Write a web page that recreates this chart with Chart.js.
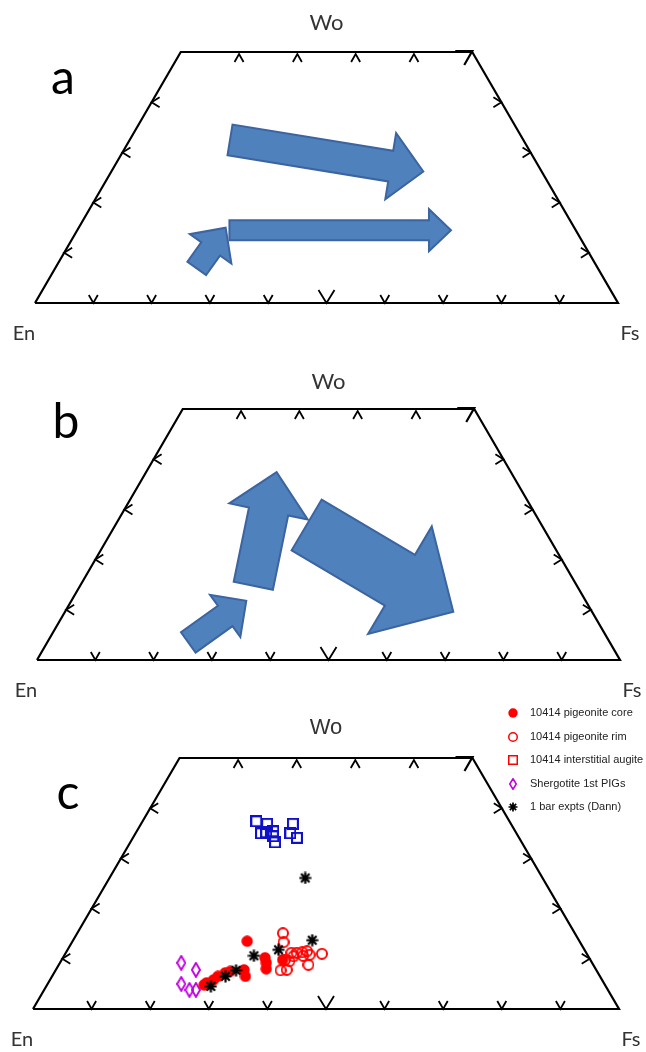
<!DOCTYPE html>
<html>
<head>
<meta charset="utf-8">
<script src="https://cdn.jsdelivr.net/npm/chart.js@4.4.1/dist/chart.umd.min.js"></script>
<style>
  html, body { margin: 0; padding: 0; background: #fff; }
  body { width: 646px; height: 1052px; position: relative; overflow: hidden; }
  canvas { position: absolute; left: 0; }
</style>
</head>
<body>
<canvas id="panelA" width="646" height="350" style="top:0"></canvas>
<canvas id="panelB" width="646" height="350" style="top:350px"></canvas>
<canvas id="panelC" width="646" height="352" style="top:700px"></canvas>
<script>
// pyroxene quadrilateral, values in Fs / Wo (mol %); plotted x = Fs + Wo/2
const quadFs = [0, 0, 50, 100, 0];
const quadWo = [0, 50, 50, 0, 0];
const baseTickFs = [10, 20, 30, 40, 50, 60, 70, 80, 90];
const topTickFs = [10, 20, 30, 40];
const sideTickWo = [10, 20, 30, 40];

// panel a arrows (tail -> tip)
const arrowATailFs = [17.2, 26.1, 24.3];
const arrowATailWo = [32.5, 14.5, 6.9];
const arrowATipFs = [53.5, 64.1, 25.2];
const arrowATipWo = [26.2, 14.5, 15.0];

// panel b arrows
const arrowBTailFs = [24.2, 29.7, 32.8];
const arrowBTailWo = [3.5, 14.8, 26.9];
const arrowBTipFs = [30.0, 22.4, 66.6];
const arrowBTipWo = [11.8, 37.4, 9.6];

// panel c
const coreFs = [26.8, 27.0, 27.9, 28.3, 29.2, 29.9, 32.1, 33.0, 29.8, 34.5, 35.2, 35.8, 37.7];
const coreWo = [4.8, 5.2, 5.8, 6.5, 7.2, 7.5, 7.8, 6.5, 13.5, 10.2, 9.2, 8.0, 9.8];
const rimFs = [35.1, 36.1, 38.5, 39.4, 40.3, 41.0, 41.8, 43.8, 42.6, 39.4, 38.4, 39.0, 39.2, 40.8, 38.1];
const rimWo = [15.1, 13.3, 11.2, 11.2, 11.3, 11.5, 10.8, 11.0, 8.8, 7.8, 7.7, 9.5, 10.5, 10.6, 9.8];
const augiteFs = [19.4, 21.5, 21.4, 22.2, 23.3, 23.8, 24.7, 25.9, 26.4, 28.0];
const augiteWo = [37.4, 36.9, 35.0, 35.2, 35.4, 34.4, 33.2, 36.9, 35.0, 34.1];
const shergFs = [20.7, 23.9, 22.8, 24.8, 25.9];
const shergWo = [9.2, 7.8, 5.0, 3.8, 3.8];
const dannFs = [28.1, 29.6, 30.8, 32.4, 36.0, 40.8, 33.4];
const dannWo = [4.5, 6.5, 7.7, 10.6, 11.8, 13.7, 26.1];
const legendLabels = ['10414 pigeonite core', '10414 pigeonite rim', '10414 interstitial augite', 'Shergotite 1st PIGs', '1 bar expts (Dann)'];

const LABEL_FONT = 'Lato, "Open Sans", sans-serif';

function toXY(fs, wo) {
  return fs.map((f, i) => ({ x: f + wo[i] / 2, y: wo[i] }));
}

function px(chart, fs, wo) {
  return { x: chart.scales.x.getPixelForValue(fs + wo / 2), y: chart.scales.y.getPixelForValue(wo) };
}

function marker(kind, color, w, h, lw) {
  const c = document.createElement('canvas');
  c.width = w; c.height = h;
  const g = c.getContext('2d');
  const cx = w / 2, cy = h / 2;
  g.strokeStyle = color; g.fillStyle = color;
  g.lineWidth = lw || 1.8;
  const o = g.lineWidth / 2;
  if (kind === 'dot') {
    g.beginPath(); g.arc(cx, cy, w / 2 - 0.3, 0, Math.PI * 2); g.fill();
  } else if (kind === 'ring') {
    g.beginPath(); g.arc(cx, cy, w / 2 - o, 0, Math.PI * 2); g.stroke();
  } else if (kind === 'square') {
    g.strokeRect(o, o, w - 2 * o, h - 2 * o);
  } else if (kind === 'diamond') {
    g.lineJoin = 'round';
    g.beginPath();
    g.moveTo(cx, o); g.lineTo(w - o, cy); g.lineTo(cx, h - o); g.lineTo(o, cy); g.closePath();
    g.stroke();
  } else if (kind === 'star') {
    g.beginPath();
    for (let k = 0; k < 4; k++) {
      const a = k * Math.PI / 4, r = w / 2 - 0.5;
      g.moveTo(cx - Math.cos(a) * r, cy - Math.sin(a) * r);
      g.lineTo(cx + Math.cos(a) * r, cy + Math.sin(a) * r);
    }
    g.stroke();
    g.beginPath(); g.arc(cx, cy, 2.4, 0, Math.PI * 2); g.fill();
  }
  return c;
}

function drawArrow(ctx, t, h, shaft, head, headLen) {
  const dx = h.x - t.x, dy = h.y - t.y, len = Math.hypot(dx, dy);
  const ux = dx / len, uy = dy / len, nx = -uy, ny = ux;
  const bx = h.x - ux * headLen, by = h.y - uy * headLen;
  const s = shaft / 2, w = head / 2;
  ctx.beginPath();
  ctx.moveTo(t.x + nx * s, t.y + ny * s);
  ctx.lineTo(bx + nx * s, by + ny * s);
  ctx.lineTo(bx + nx * w, by + ny * w);
  ctx.lineTo(h.x, h.y);
  ctx.lineTo(bx - nx * w, by - ny * w);
  ctx.lineTo(bx - nx * s, by - ny * s);
  ctx.lineTo(t.x - nx * s, t.y - ny * s);
  ctx.closePath();
  ctx.fillStyle = '#4F81BD';
  ctx.fill();
  ctx.strokeStyle = '#3B64A0';
  ctx.lineWidth = 2;
  ctx.lineJoin = 'miter';
  ctx.stroke();
}

function drawTicks(chart) {
  const ctx = chart.ctx;
  ctx.save();
  ctx.strokeStyle = '#000';
  ctx.lineWidth = 1.8;
  ctx.beginPath();
  const chev = (p, a, b) => {
    ctx.moveTo(p.x + a[0], p.y + a[1]);
    ctx.lineTo(p.x, p.y);
    ctx.lineTo(p.x + b[0], p.y + b[1]);
  };
  baseTickFs.forEach(fs => {
    const p = px(chart, fs, 0);
    const big = fs === 50;
    const w = big ? 8 : 4.5, h = big ? 13 : 8;
    chev(p, [-w, -h], [w, -h]);
  });
  topTickFs.forEach(fs => {
    const p = px(chart, fs, 50);
    chev({ x: p.x, y: p.y + 2 }, [-4.5, 8], [4.5, 8]);
  });
  sideTickWo.forEach(wo => {
    chev(px(chart, 0, wo), [8, -5], [8, 5]);
    chev(px(chart, 100 - wo, wo), [-8, -5], [-8, 5]);
  });
  ctx.stroke();
  // corner mark at Hd
  const c = px(chart, 50, 50);
  ctx.lineWidth = 2.2;
  ctx.beginPath();
  ctx.moveTo(c.x - 17, c.y - 1);
  ctx.lineTo(c.x, c.y - 1);
  ctx.lineTo(c.x - 8, c.y + 13);
  ctx.stroke();
  ctx.restore();
}

function drawLabels(chart, cfg) {
  const ctx = chart.ctx, area = chart.chartArea;
  ctx.save();
  ctx.textAlign = 'center';
  ctx.textBaseline = 'middle';
  ctx.fillStyle = '#333';
  ctx.font = cfg.woFont;
  ctx.fillText('Wo', chart.scales.x.getPixelForValue(50), area.top - cfg.woGap);
  ctx.font = '20px ' + LABEL_FONT;
  ctx.fillText('En', area.left - 11, area.bottom + 31);
  ctx.fillText('Fs', area.right + 12, area.bottom + 31);
  ctx.fillStyle = '#000';
  ctx.font = '48px ' + LABEL_FONT;
  ctx.fillText(cfg.letter, cfg.letterX, cfg.letterY);
  ctx.restore();
}

function outlineDataset() {
  return {
    data: toXY(quadFs, quadWo),
    showLine: true,
    borderColor: '#000',
    borderWidth: 2.2,
    pointRadius: 0,
    fill: false,
    clip: false
  };
}

function baseOptions(padding) {
  return {
    responsive: false,
    animation: false,
    layout: { padding },
    plugins: { legend: { display: false }, tooltip: { enabled: false } },
    scales: {
      x: { type: 'linear', min: 0, max: 100, display: false },
      y: { type: 'linear', min: 0, max: 50, display: false }
    }
  };
}

function arrowPanel(id, padding, tailFs, tailWo, tipFs, tipWo, shafts, heads, headLens, labelCfg) {
  new Chart(document.getElementById(id), {
    type: 'scatter',
    data: { datasets: [outlineDataset()] },
    options: baseOptions(padding),
    plugins: [{
      id: 'decor' + id,
      beforeDatasetsDraw(chart) {
        tailFs.forEach((f, i) => {
          drawArrow(chart.ctx, px(chart, f, tailWo[i]), px(chart, tipFs[i], tipWo[i]), shafts[i], heads[i], headLens[i]);
        });
      },
      afterDatasetsDraw(chart) {
        drawTicks(chart);
        drawLabels(chart, labelCfg);
      }
    }]
  });
}

arrowPanel('panelA', { left: 35, right: 28, top: 52, bottom: 47 },
  arrowATailFs, arrowATailWo, arrowATipFs, arrowATipWo,
  [31, 20, 23], [67, 42, 51], [33, 22, 26],
  { letter: 'a', letterX: 63, letterY: 79, woGap: 29, woFont: '22px ' + LABEL_FONT });

arrowPanel('panelB', { left: 37, right: 26, top: 59, bottom: 40 },
  arrowBTailFs, arrowBTailWo, arrowBTipFs, arrowBTipWo,
  [25, 40, 59], [52, 80, 125], [26, 40, 62],
  { letter: 'b', letterX: 66, letterY: 73, woGap: 27, woFont: '22px ' + LABEL_FONT });

// panel c markers
const mkCore = marker('dot', '#FF0000', 12, 12);
const mkRim = marker('ring', '#FF0000', 12, 12, 1.9);
const mkAug = marker('square', '#1010C8', 12, 12, 2.1);
const mkSherg = marker('diamond', '#C000E0', 10, 16, 1.9);
const mkDann = marker('star', '#000', 13, 13, 2.2);
const legendMarks = [marker('dot', '#FF0000', 10, 10), marker('ring', '#FF0000', 10, 10, 1.5),
  marker('square', '#FF0000', 10, 10, 1.5), marker('diamond', '#C000E0', 8, 12, 1.5), marker('star', '#000', 10, 10, 1.7)];

function pts(fs, wo, style, label) {
  return { label, data: toXY(fs, wo), pointStyle: style, pointRadius: 6, clip: false };
}

new Chart(document.getElementById('panelC'), {
  type: 'scatter',
  data: {
    datasets: [
      outlineDataset(),
      pts(dannFs, dannWo, mkDann, legendLabels[4]),
      pts(coreFs, coreWo, mkCore, legendLabels[0]),
      pts(rimFs, rimWo, mkRim, legendLabels[1]),
      pts(augiteFs, augiteWo, mkAug, legendLabels[2]),
      pts(shergFs, shergWo, mkSherg, legendLabels[3])
    ]
  },
  options: baseOptions({ left: 33, right: 27, top: 58, bottom: 43 }),
  plugins: [{
    id: 'decorC',
    afterDatasetsDraw(chart) {
      drawTicks(chart);
      drawLabels(chart, { letter: 'c', letterX: 68, letterY: 94, woGap: 30, woFont: '22px "Liberation Sans", Arial, sans-serif' });
      const ctx = chart.ctx;
      ctx.save();
      ctx.font = '11px "Liberation Sans", Arial, sans-serif';
      ctx.fillStyle = '#222';
      ctx.textAlign = 'left';
      ctx.textBaseline = 'middle';
      legendLabels.forEach((lab, i) => {
        const y = 13 + i * 23.5;
        const m = legendMarks[i];
        ctx.drawImage(m, Math.round(513 - m.width / 2), Math.round(y - m.height / 2));
        ctx.fillText(lab, 530, y);
      });
      ctx.restore();
    }
  }]
});
</script>
</body>
</html>
